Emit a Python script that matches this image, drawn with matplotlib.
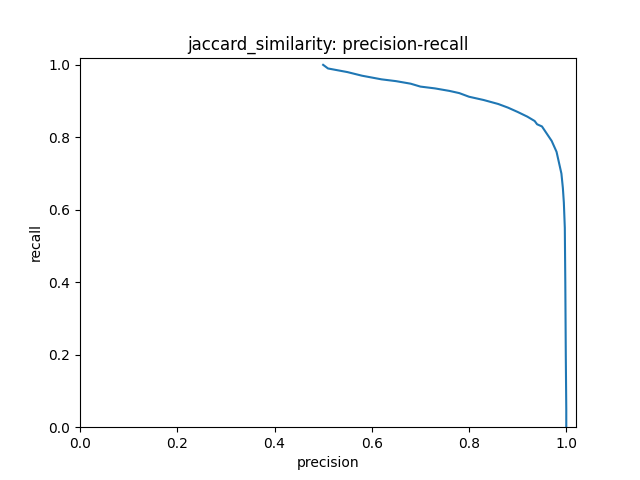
import matplotlib
matplotlib.use("Agg")
import matplotlib.pyplot as plt

# precision / recall points
precision = [0.50, 0.51, 0.55, 0.58, 0.60, 0.62, 0.65, 0.68, 0.70, 0.73, 0.76, 0.78,
             0.80, 0.83, 0.86, 0.88, 0.90, 0.92, 0.935, 0.94, 0.95, 0.96, 0.97, 0.98,
             0.985, 0.99, 0.993, 0.995, 0.997, 0.998, 0.999, 1.0, 1.0]
recall = [1.00, 0.99, 0.98, 0.97, 0.965, 0.96, 0.955, 0.948, 0.94, 0.935, 0.928, 0.922,
          0.912, 0.903, 0.892, 0.882, 0.87, 0.857, 0.845, 0.836, 0.83, 0.81, 0.79, 0.76,
          0.73, 0.70, 0.66, 0.62, 0.55, 0.40, 0.20, 0.05, 0.0]

fig, ax = plt.subplots(figsize=(6.4, 4.8), dpi=100)
ax.plot(precision, recall)
ax.set_xlim(0, 1.02)
ax.set_ylim(0, 1.02)
ax.set_xlabel("precision")
ax.set_ylabel("recall")
ax.set_title("jaccard_similarity: precision-recall")
fig.savefig("out.png")
